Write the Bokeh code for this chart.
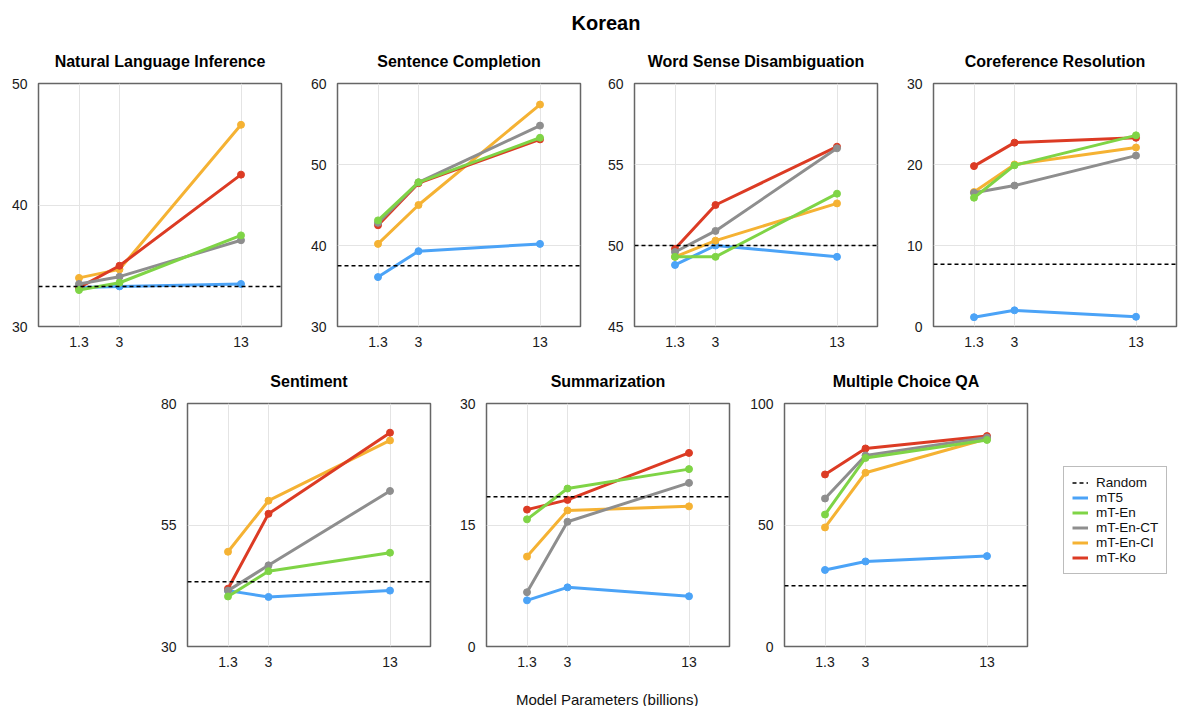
from bokeh.plotting import figure
from bokeh.layouts import column, row
from bokeh.models import FixedTicker, Range1d, Label, Legend, LegendItem, Spacer
from bokeh.embed import file_html
from bokeh.resources import INLINE

# ---------------- data ----------------
x_params = [1.3, 3, 13]          # model size (billions)
x_slots = [1, 2, 5]              # slot of each size on the x axis (as spaced in the reference)
series = ["mT5", "mT-En", "mT-En-CT", "mT-En-CI", "mT-Ko"]
draw_order = ["mT5", "mT-En-CI", "mT-Ko", "mT-En-CT", "mT-En"]
colors = {"mT5": "#4ba3f7", "mT-En": "#7fd446", "mT-En-CT": "#8e8e8e",
          "mT-En-CI": "#f5b233", "mT-Ko": "#dc3b24"}

nli = {"mT5": [33.2, 33.3, 33.5], "mT-En": [33.0, 33.6, 37.5], "mT-En-CT": [33.5, 34.1, 37.1],
       "mT-En-CI": [34.0, 34.7, 46.6], "mT-Ko": [33.2, 35.0, 42.5]}
sc = {"mT5": [36.1, 39.3, 40.2], "mT-En": [43.1, 47.8, 53.3], "mT-En-CT": [42.8, 47.8, 54.8],
      "mT-En-CI": [40.2, 45.0, 57.4], "mT-Ko": [42.5, 47.7, 53.1]}
wsd = {"mT5": [48.8, 50.0, 49.3], "mT-En": [49.3, 49.3, 53.2], "mT-En-CT": [49.6, 50.9, 56.0],
       "mT-En-CI": [49.3, 50.3, 52.6], "mT-Ko": [49.8, 52.5, 56.1]}
cr = {"mT5": [1.15, 2.0, 1.2], "mT-En": [15.9, 19.9, 23.6], "mT-En-CT": [16.5, 17.4, 21.1],
      "mT-En-CI": [16.6, 20.0, 22.1], "mT-Ko": [19.8, 22.7, 23.3]}
sent = {"mT5": [41.5, 40.2, 41.5], "mT-En": [40.3, 45.5, 49.3], "mT-En-CT": [41.5, 46.7, 62.0],
        "mT-En-CI": [49.5, 60.0, 72.4], "mT-Ko": [41.9, 57.3, 74.0]}
summ = {"mT5": [5.7, 7.3, 6.2], "mT-En": [15.7, 19.5, 21.9], "mT-En-CT": [6.7, 15.4, 20.2],
        "mT-En-CI": [11.1, 16.8, 17.3], "mT-Ko": [16.9, 18.1, 23.9]}
mcqa = {"mT5": [31.5, 35.0, 37.2], "mT-En": [54.3, 77.6, 85.0], "mT-En-CT": [60.9, 78.6, 86.0],
        "mT-En-CI": [49.0, 71.5, 85.5], "mT-Ko": [70.8, 81.5, 86.6]}

random_baseline = {"nli": 33.3, "sc": 37.5, "wsd": 50.0, "cr": 7.7, "sent": 43.3, "summ": 18.5, "mcqa": 25.0}

FONT = "Liberation Sans"
FW, FH = 243, 243


def make_panel(title, data, rnd, yr, yticks, left, right, top, bottom):
    x_lo, x_hi = 0, max(x_slots) + 1
    p = figure(frame_width=FW, frame_height=FH, min_border_left=left, min_border_right=right,
               min_border_top=top, min_border_bottom=bottom,
               x_range=Range1d(x_lo, x_hi), y_range=Range1d(*yr),
               toolbar_location=None, output_backend="svg", title=title)
    p.title.align = "center"
    p.title.text_font = FONT
    p.title.text_font_size = "16px"
    p.title.text_font_style = "bold"
    p.title.text_color = "#000000"
    p.title.standoff = 27
    p.xaxis.ticker = FixedTicker(ticks=x_slots)
    p.xaxis.major_label_overrides = {s: str(v) for s, v in zip(x_slots, x_params)}
    p.yaxis.ticker = FixedTicker(ticks=yticks)
    p.axis.axis_line_color = None
    p.axis.major_tick_line_color = None
    p.axis.minor_tick_line_color = None
    p.axis.major_tick_out = 0
    p.axis.major_label_text_font = FONT
    p.axis.major_label_text_font_size = "14px"
    p.axis.major_label_text_color = "#1a1a1a"
    p.xaxis.major_label_standoff = 10
    p.yaxis.major_label_standoff = 11
    p.grid.grid_line_color = "#e4e4e4"
    p.outline_line_color = "#666666"
    p.outline_line_width = 1.5
    p.background_fill_color = "white"
    p.border_fill_color = "white"
    rends = {}
    for name in draw_order:
        rends[name] = p.line(x_slots, data[name], line_color=colors[name], line_width=3)
        p.scatter(x_slots, data[name], size=7, fill_color=colors[name], line_color=colors[name])
    rends["Random"] = p.line([x_lo, x_hi], [rnd, rnd], line_color="black",
                             line_width=1.5, line_dash="4 3")
    return p, rends


# row 1
p1, _ = make_panel("Natural Language Inference", nli, random_baseline["nli"], (30, 50), [30, 40, 50], 38, 18, 47, 30)
p2, _ = make_panel("Sentence Completion", sc, random_baseline["sc"], (30, 60), [30, 40, 50, 60], 38, 16, 47, 30)
p3, _ = make_panel("Word Sense Disambiguation", wsd, random_baseline["wsd"], (45, 60), [45, 50, 55, 60], 38, 18, 47, 30)
p4, _ = make_panel("Coreference Resolution", cr, random_baseline["cr"], (0, 30), [0, 10, 20, 30], 38, 2, 47, 30)

# row 2
p5, _ = make_panel("Sentiment", sent, random_baseline["sent"], (30, 80), [30, 55, 80], 38, 18, 47, 30)
p6, _ = make_panel("Summarization", summ, random_baseline["summ"], (0, 30), [0, 15, 30], 38, 17, 47, 30)
p7, r7 = make_panel("Multiple Choice QA", mcqa, random_baseline["mcqa"], (0, 100), [0, 50, 100], 38, 147, 47, 30)

items = [LegendItem(label="Random", renderers=[r7["Random"]])]
for name in series:
    items.append(LegendItem(label=name, renderers=[r7[name]]))
legend = Legend(items=items, location=(36, 72), label_text_font=FONT, label_text_font_size="13.5px",
                label_text_color="#111111", glyph_width=16, glyph_height=15, label_height=15,
                spacing=0, padding=8, label_standoff=8, border_line_color="#7a7a7a",
                border_line_width=1, background_fill_color="white", margin=0)
p7.add_layout(legend, "right")

# overall title
tf = figure(width=1178, height=36, min_border=0, toolbar_location=None, output_backend="svg",
            x_range=Range1d(0, 1), y_range=Range1d(0, 1), x_axis_location=None, y_axis_location=None)
tf.grid.visible = False
tf.outline_line_color = None
tf.add_layout(Label(x=0.514, y=0.37, text="Korean", text_align="center", text_baseline="middle",
                    text_font=FONT, text_font_size="20px", text_font_style="bold", text_color="black"))

# x axis label
xf = figure(width=1178, height=30, min_border=0, toolbar_location=None, output_backend="svg",
            x_range=Range1d(0, 1), y_range=Range1d(0, 1), x_axis_location=None, y_axis_location=None)
xf.grid.visible = False
xf.outline_line_color = None
xf.add_layout(Label(x=0.515, y=0.25, text="Model Parameters (billions)", text_align="center",
                    text_baseline="middle", text_font=FONT, text_font_size="15px", text_color="#111111"))

layout = column(tf, row(p1, p2, p3, p4), row(Spacer(width=149, height=320), p5, p6, p7), xf)

open("out.html", "w").write(file_html(layout, INLINE))
